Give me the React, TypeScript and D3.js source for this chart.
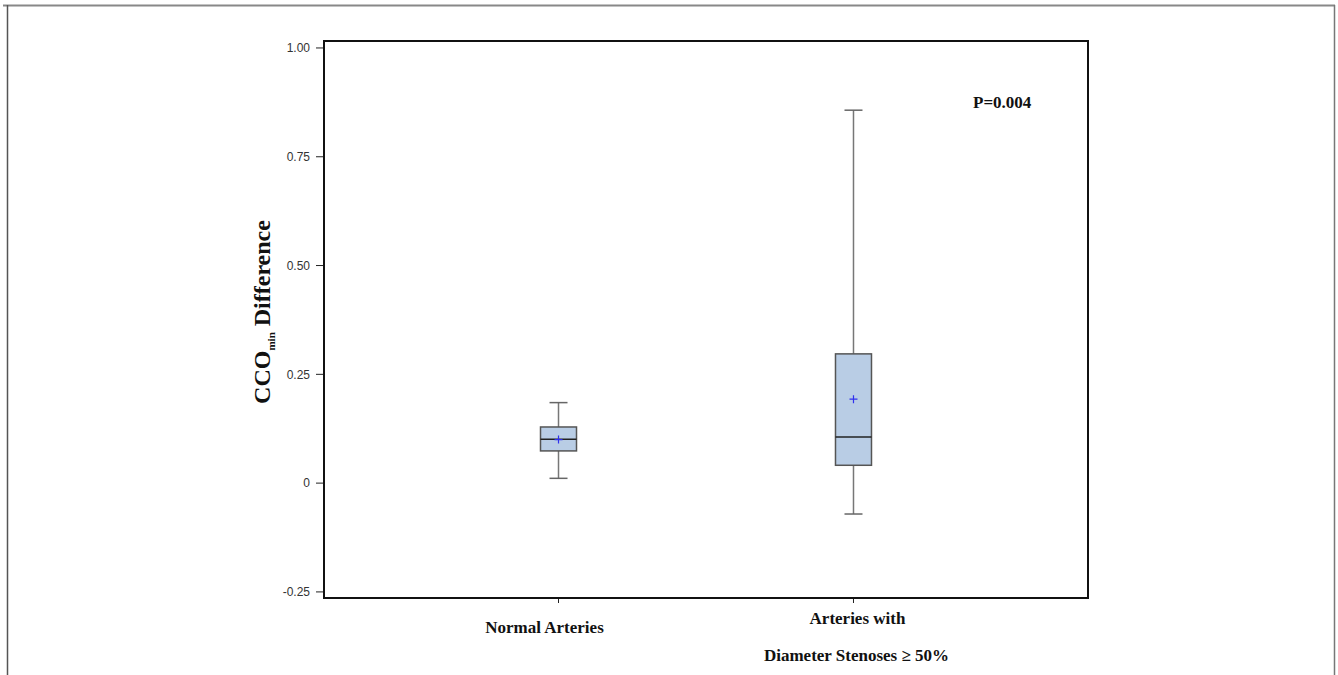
import React from "react";
import * as d3 from "d3";

// box plot stats
const groups = ["Normal Arteries", "Arteries with Diameter Stenoses"];
const whiskerLow = [0.011, -0.071];
const q1 = [0.074, 0.041];
const median = [0.101, 0.106];
const q3 = [0.129, 0.297];
const whiskerHigh = [0.185, 0.857];
const means = [0.1, 0.193];
const yTicks = [-0.25, 0, 0.25, 0.5, 0.75, 1.0];
const yTickLabels = ["-0.25", "0", "0.25", "0.50", "0.75", "1.00"];
const pValue = "P=0.004";

const W = 1338;
const H = 675;
const plot = { left: 324, right: 1088, top: 41, bottom: 598 };

const App = () => {
  const x = d3
    .scalePoint<string>()
    .domain(groups)
    .range([plot.left, plot.right])
    .padding(0.795);

  const y = d3
    .scaleLinear()
    .domain([-0.264, 1.016])
    .range([plot.bottom, plot.top]);

  const boxW = 36;
  const capW = 18;
  const serif = "'Liberation Serif', 'Times New Roman', serif";
  const sans = "'Liberation Sans', Arial, sans-serif";

  return (
    <svg
      width={W}
      height={H}
      style={{ position: "absolute", left: 0, top: 0, background: "#fff" }}
    >
      {/* outer page frame */}
      <line x1={3} x2={1335} y1={5.5} y2={5.5} stroke="#888" strokeWidth={2} />
      <line x1={7.5} x2={7.5} y1={5} y2={H} stroke="#555" strokeWidth={1.5} />
      <line x1={1334.5} x2={1334.5} y1={5} y2={H} stroke="#777" strokeWidth={1.5} />

      {/* y ticks */}
      {yTicks.map((t, i) => (
        <g key={t}>
          <line x1={plot.left - 8} x2={plot.left} y1={y(t)} y2={y(t)} stroke="#222" strokeWidth={1} />
          <text
            x={plot.left - 14}
            y={y(t)}
            dy="0.35em"
            textAnchor="end"
            fontFamily={sans}
            fontSize={12}
            fill="#333"
          >
            {yTickLabels[i]}
          </text>
        </g>
      ))}

      {/* x ticks */}
      {groups.map((g) => (
        <line key={g} x1={x(g)} x2={x(g)} y1={plot.bottom} y2={plot.bottom + 5} stroke="#222" strokeWidth={1} />
      ))}

      {/* boxes */}
      {groups.map((g, i) => {
        const cx = x(g)!;
        return (
          <g key={g}>
            <line x1={cx} x2={cx} y1={y(whiskerHigh[i])} y2={y(q3[i])} stroke="#777" strokeWidth={1.5} />
            <line x1={cx} x2={cx} y1={y(q1[i])} y2={y(whiskerLow[i])} stroke="#777" strokeWidth={1.5} />
            <line x1={cx - capW / 2} x2={cx + capW / 2} y1={y(whiskerHigh[i])} y2={y(whiskerHigh[i])} stroke="#666" strokeWidth={1.5} />
            <line x1={cx - capW / 2} x2={cx + capW / 2} y1={y(whiskerLow[i])} y2={y(whiskerLow[i])} stroke="#666" strokeWidth={1.5} />
            <rect
              x={cx - boxW / 2}
              y={y(q3[i])}
              width={boxW}
              height={y(q1[i]) - y(q3[i])}
              fill="#b9cde5"
              stroke="#555"
              strokeWidth={1.5}
            />
            <line x1={cx - boxW / 2} x2={cx + boxW / 2} y1={y(median[i])} y2={y(median[i])} stroke="#222" strokeWidth={1.5} />
            <path
              d={`M${cx - 4},${y(means[i])}H${cx + 4}M${cx},${y(means[i]) - 4}V${y(means[i]) + 4}`}
              stroke="#3030ee"
              strokeWidth={1.2}
            />
          </g>
        );
      })}

      {/* plot frame */}
      <rect
        x={plot.left}
        y={plot.top}
        width={plot.right - plot.left}
        height={plot.bottom - plot.top}
        fill="none"
        stroke="#111"
        strokeWidth={2}
      />

      {/* category labels */}
      <text x={x(groups[0])! - 14} y={633} textAnchor="middle" fontFamily={serif} fontWeight="bold" fontSize={17} fill="#111">
        Normal Arteries
      </text>
      <text x={x(groups[1])! + 4} y={624} textAnchor="middle" fontFamily={serif} fontWeight="bold" fontSize={17} fill="#111">
        Arteries with
      </text>
      <text x={x(groups[1])! + 3} y={661} textAnchor="middle" fontFamily={serif} fontWeight="bold" fontSize={17} fill="#111">
        Diameter Stenoses ≥ 50%
      </text>

      {/* y axis title */}
      <text
        transform={`translate(270,${312}) rotate(-90)`}
        textAnchor="middle"
        fontFamily={serif}
        fontWeight="bold"
        fontSize={24}
        fill="#111"
      >
        CCO
        <tspan fontSize={11} dy={5}>min</tspan>
        <tspan dy={-5}>{"  Difference"}</tspan>
      </text>

      {/* p value */}
      <text x={973} y={108} fontFamily={serif} fontWeight="bold" fontSize={17} fill="#111">
        {pValue}
      </text>
    </svg>
  );
};

export default App;
